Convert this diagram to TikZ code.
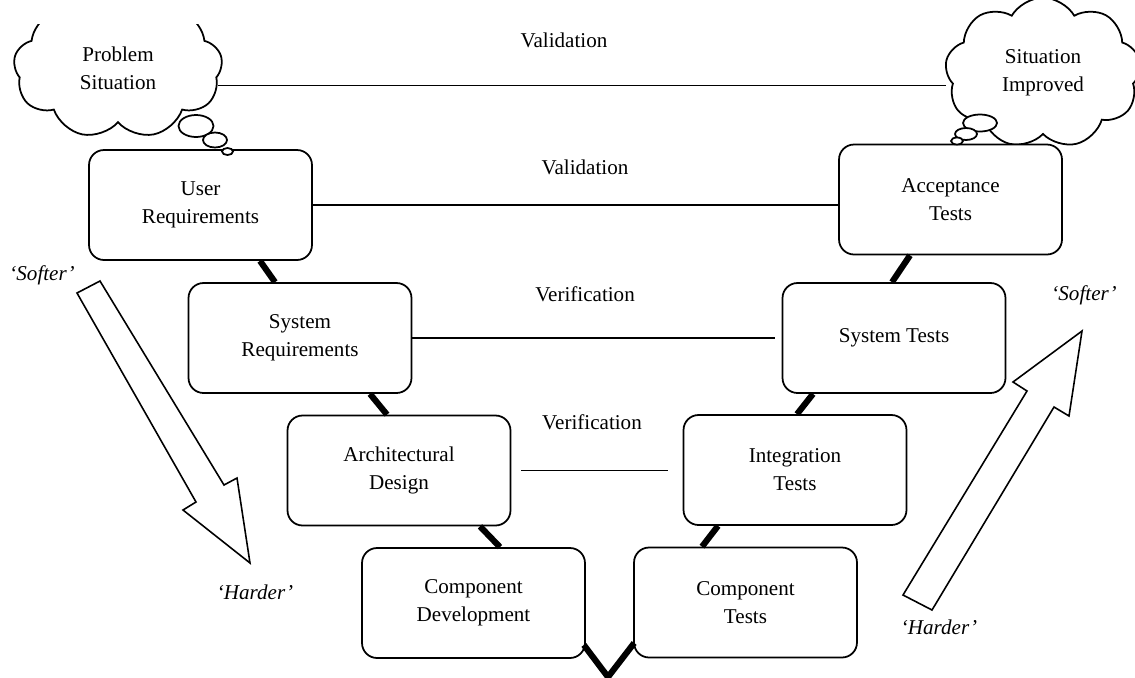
\documentclass[tikz,border=0pt]{standalone}
\usepackage{fontspec}
\setmainfont{Liberation Serif}
\usepackage{tikz}
\usetikzlibrary{positioning,calc,shapes.symbols}

\begin{document}
\begin{tikzpicture}[
    x=0.02cm, y=-0.02cm,
    font=\fontsize{12}{16}\selectfont,
    stage/.style={rectangle, rounded corners=0.3cm, draw, line width=1pt, fill=white, minimum width=4.46cm, minimum height=2.2cm, align=center},
    thought/.style={cloud, cloud puffs=9, cloud puff arc=120, draw, line width=1pt, fill=white, align=center},
    bubble/.style={draw, line width=1pt, fill=white},
    vlink/.style={line width=3.5pt},
    hlink/.style={line width=1pt},
    bigarrow/.style={draw, line width=0.9pt, fill=white, line join=miter},
    tag/.style={font=\fontsize{12}{16}\selectfont\itshape}
]
\useasboundingbox (0,0) rectangle (1135,677);

% Thought clouds
\begin{scope}
\clip (0,24) rectangle (1135,677);
\node[thought, minimum width=4.18cm, minimum height=2.2cm] (pcloud) at (118,68) {Problem\\Situation};
\end{scope}
\node[thought, minimum width=3.92cm, minimum height=2.14cm] (icloud) at (1043,73) {Situation\\Improved};

% Stages of the V
\node[stage] (ureq) at (200.5,205) {User\\Requirements};
\node[stage] (sreq) at (300,338) {System\\Requirements};
\node[stage] (arch) at (399,470.5) {Architectural\\Design};
\node[stage] (cdev) at (473.5,603) {Component\\Development};
\node[stage] (ctest) at (745.5,602.5) {Component\\Tests};
\node[stage] (integ) at (795,470) {Integration\\Tests};
\node[stage] (stest) at (894,338) {System Tests};
\node[stage] (acc) at (950.5,199.5) {Acceptance\\Tests};

% Thought bubbles
\draw[bubble] (196,126) ellipse [x radius=17.5, y radius=11];
\draw[bubble] (215,140) ellipse [x radius=12, y radius=7.5];
\draw[bubble] (227.5,151.5) ellipse [x radius=5.5, y radius=3.5];
\draw[bubble] (980,123) ellipse [x radius=17, y radius=8.5];
\draw[bubble] (966,134) ellipse [x radius=11, y radius=6];
\draw[bubble] (957,141) ellipse [x radius=6, y radius=3.5];

% Validation and verification links
\draw[hlink] (pcloud.-10) -- (pcloud.-10 -| icloud.west);
\node (val1) at (564,40) {Validation};
\draw[hlink] (ureq.east) -- (ureq.east -| acc.west);
\node (val2) at (585,167) {Validation};
\draw[hlink, shorten >=0.14cm] (sreq.east) -- (sreq.east -| stest.west);
\node (ver1) at (585,294) {Verification};
\draw[hlink, shorten <=0.2cm, shorten >=0.3cm] (arch.east) -- (arch.east -| integ.west);
\node (ver2) at (592,422) {Verification};

% The V itself
\coordinate (vtip) at (608,677);
\draw[vlink] ($(ureq.south)+(59.5,0)$) -- ($(sreq.north)+(-25,0)$);
\draw[vlink] ($(sreq.south)+(70,0)$) -- ($(arch.north)+(-12,0)$);
\draw[vlink] ($(arch.south)+(81,0)$) -- ($(cdev.north)+(26.5,0)$);
\draw[vlink] ($(cdev.east)+(-2,42)$) -- (vtip) -- ($(ctest.west)+(1,40.5)$);
\draw[vlink] ($(ctest.north)+(-43.5,0)$) -- ($(integ.south)+(-77,0)$);
\draw[vlink] ($(integ.north)+(2,0)$) -- ($(stest.south)+(-81,0)$);
\draw[vlink] ($(stest.north)+(-2,0)$) -- ($(acc.south)+(-40.5,0)$);

% Softer / harder arrows
\draw[bigarrow] (100,281) -- (224,485) -- (237,478) -- (250,563) -- (183,510) -- (196,502) -- (77,293) -- cycle;
\draw[bigarrow] (932,610) -- (1054,407) -- (1069,416) -- (1082,331) -- (1013,382) -- (1027,391) -- (903,595) -- cycle;
\node[tag] (soft1) at (42,275) {`Softer'};
\node[tag] (hard1) at (255,592) {`Harder'};
\node[tag] (soft2) at (1084,295) {`Softer'};
\node[tag] (hard2) at (939,627) {`Harder'};

\end{tikzpicture}
\end{document}
